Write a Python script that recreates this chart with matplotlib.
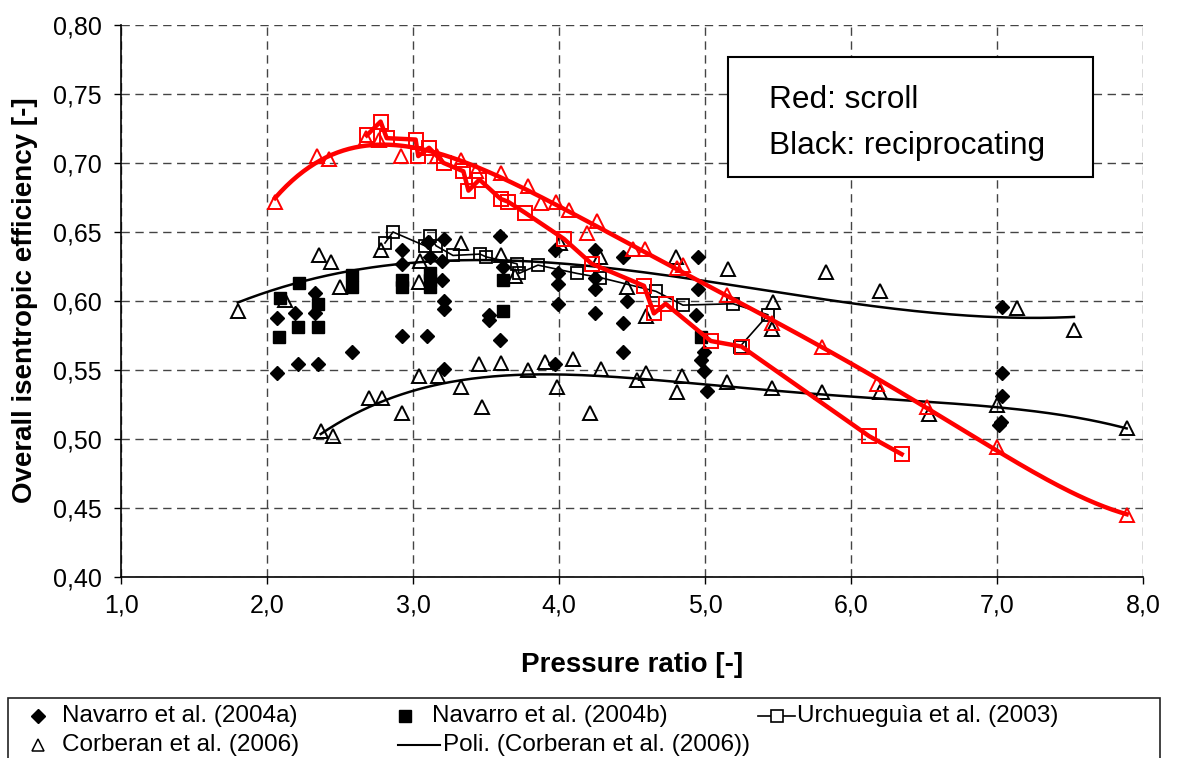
import numpy as np
import matplotlib
matplotlib.use('Agg')
import matplotlib.pyplot as plt
from matplotlib.ticker import FuncFormatter
from matplotlib.lines import Line2D
from matplotlib.patches import Rectangle

plt.rcParams['font.family'] = ['Liberation Sans', 'DejaVu Sans']

# ---------------- data ----------------
# Red: scroll compressors
scroll_tri_x = [2.055, 2.345, 2.427, 2.678, 2.769, 2.916, 3.162, 3.329, 3.432, 3.600,
                3.790, 3.880, 3.979, 4.070, 4.190, 4.260, 4.510, 4.590, 4.806, 4.846,
                5.148, 5.457, 5.800, 6.176, 6.518, 6.998, 7.888]
scroll_tri_y = [0.672, 0.705, 0.703, 0.718, 0.717, 0.705, 0.705, 0.702, 0.694, 0.693,
                0.683, 0.671, 0.672, 0.666, 0.649, 0.658, 0.638, 0.638, 0.624, 0.626,
                0.604, 0.584, 0.567, 0.540, 0.523, 0.494, 0.445]

scroll_sq_x = [2.683, 2.778, 2.820, 3.018, 3.036, 3.110, 3.210, 3.345, 3.380, 3.455,
               3.600, 3.650, 3.767, 4.034, 4.224, 4.582, 4.650, 4.730, 5.040, 5.250,
               6.125, 6.347]
scroll_sq_y = [0.720, 0.730, 0.718, 0.717, 0.705, 0.711, 0.700, 0.694, 0.680, 0.688,
               0.674, 0.672, 0.664, 0.645, 0.627, 0.611, 0.591, 0.598, 0.571, 0.567,
               0.502, 0.489]

# Black: reciprocating compressors
nav_a_x = [2.066, 2.066, 2.192, 2.210, 2.329, 2.329, 2.347, 2.580, 2.923, 2.923,
           2.923, 3.094, 3.105, 3.116, 3.200, 3.200, 3.210, 3.210, 3.214, 3.210,
           3.520, 3.520, 3.596, 3.596, 3.619, 3.973, 3.990, 3.995, 3.995, 3.973,
           4.247, 4.247, 4.247, 4.247, 4.440, 4.463, 4.440, 4.440, 4.954, 4.954,
           4.940, 4.990, 4.970, 4.995, 5.016, 7.032, 7.032, 7.032, 7.016, 7.030]
nav_a_y = [0.588, 0.548, 0.591, 0.554, 0.606, 0.591, 0.554, 0.563, 0.637, 0.627,
           0.575, 0.575, 0.643, 0.632, 0.629, 0.615, 0.600, 0.594, 0.645, 0.551,
           0.590, 0.586, 0.647, 0.572, 0.625, 0.637, 0.620, 0.612, 0.598, 0.554,
           0.637, 0.617, 0.609, 0.591, 0.632, 0.600, 0.584, 0.563, 0.632, 0.609,
           0.590, 0.563, 0.557, 0.549, 0.535, 0.596, 0.548, 0.531, 0.510, 0.512]

nav_b_x = [2.089, 2.084, 2.221, 2.214, 2.351, 2.351, 2.580, 2.580, 2.923, 2.923,
           3.116, 3.116, 3.116, 3.619, 3.619, 4.970]
nav_b_y = [0.602, 0.574, 0.613, 0.581, 0.598, 0.581, 0.619, 0.610, 0.615, 0.610,
           0.620, 0.615, 0.610, 0.615, 0.593, 0.574]

urch_x = [2.808, 2.863, 3.082, 3.116, 3.158, 3.274, 3.459, 3.500, 3.712, 3.726,
          3.856, 4.123, 4.281, 4.664, 4.849, 5.192, 5.432, 5.240]
urch_y = [0.642, 0.650, 0.640, 0.647, 0.640, 0.633, 0.634, 0.632, 0.627, 0.620,
          0.626, 0.620, 0.617, 0.607, 0.597, 0.598, 0.590, 0.567]

corb_up_x = [1.800, 2.123, 2.358, 2.436, 2.500, 2.779, 3.048, 3.041, 3.329, 3.600,
             3.699, 4.007, 4.281, 4.463, 4.596, 4.801, 5.155, 5.467, 5.457, 5.829,
             6.198, 7.139, 7.527]
corb_up_y = [0.593, 0.601, 0.633, 0.628, 0.610, 0.637, 0.629, 0.614, 0.642, 0.633,
             0.618, 0.642, 0.632, 0.610, 0.589, 0.632, 0.623, 0.599, 0.580, 0.621,
             0.607, 0.595, 0.579]
corb_lo_x = [2.368, 2.450, 2.699, 2.790, 2.923, 3.043, 3.169, 3.329, 3.450, 3.470,
             3.600, 3.790, 3.904, 3.984, 4.094, 4.212, 4.285, 4.532, 4.596, 4.806,
             4.844, 5.148, 5.457, 5.800, 6.198, 6.536, 6.998, 7.888]
corb_lo_y = [0.506, 0.502, 0.530, 0.530, 0.519, 0.546, 0.546, 0.538, 0.554, 0.523,
             0.555, 0.550, 0.556, 0.538, 0.558, 0.519, 0.551, 0.543, 0.548, 0.534,
             0.546, 0.541, 0.537, 0.534, 0.534, 0.518, 0.525, 0.508]

x_ticks = [1.0, 2.0, 3.0, 4.0, 5.0, 6.0, 7.0, 8.0]
y_ticks = [0.40, 0.45, 0.50, 0.55, 0.60, 0.65, 0.70, 0.75, 0.80]

labels = ["Navarro et al. (2004a)", "Navarro et al. (2004b)", "Urchueguìa et al. (2003)",
          "Corberan et al. (2006)", "Poli. (Corberan et al. (2006))"]


def trend(x, y, deg):
    """Polynomial trendline over the data range (like a spreadsheet trendline)."""
    c = np.polyfit(x, y, deg)
    xs = np.linspace(min(x), max(x), 300)
    return xs, np.polyval(c, xs)


# ---------------- figure ----------------
W, H = 1178, 758
fig = plt.figure(figsize=(W / 100, H / 100), dpi=100)
ax = fig.add_axes([121 / W, 1 - 577 / H, 1022 / W, 552 / H])

ax.set_xlim(1.0, 8.0)
ax.set_ylim(0.40, 0.80)
ax.set_xticks(x_ticks)
ax.set_yticks(y_ticks)
ax.xaxis.set_major_formatter(FuncFormatter(lambda v, p: f"{v:.1f}".replace('.', ',')))
ax.yaxis.set_major_formatter(FuncFormatter(lambda v, p: f"{v:.2f}".replace('.', ',')))
ax.tick_params(axis='both', labelsize=18, direction='out', length=5, width=1,
               colors='black')
ax.tick_params(axis='y', pad=9)
ax.tick_params(axis='x', pad=7)
ax.grid(True, color='#444444', linestyle=(0, (6, 4)), linewidth=1.0, zorder=0)
ax.set_axisbelow(True)
for s in ['top', 'right']:
    ax.spines[s].set_visible(False)
for s in ['left', 'bottom']:
    ax.spines[s].set_linewidth(1.2)

# black series
xs, ys = trend(corb_up_x, corb_up_y, 3)
ax.plot(xs, ys, color='black', lw=1.8, zorder=3)
xs, ys = trend(corb_lo_x, corb_lo_y, 4)
ax.plot(xs, ys, color='black', lw=1.8, zorder=3)

ax.plot(nav_a_x, nav_a_y, ls='none', marker='D', ms=7.5, color='black', zorder=4)
ax.plot(nav_b_x, nav_b_y, ls='none', marker='s', ms=8.5, color='black', zorder=4)
ax.plot(urch_x, urch_y, color='black', lw=1.2, marker='s', ms=9, mfc='none',
        mec='black', mew=1.3, zorder=4)
ax.plot(corb_up_x, corb_up_y, ls='none', marker='^', ms=10, mfc='none', mec='black',
        mew=1.4, zorder=4)
ax.plot(corb_lo_x, corb_lo_y, ls='none', marker='^', ms=10, mfc='none', mec='black',
        mew=1.4, zorder=4)

# red series
xs, ys = trend(scroll_tri_x, scroll_tri_y, 5)
ax.plot(xs, ys, color='#ff0000', lw=3.2, zorder=5)
ax.plot(scroll_tri_x, scroll_tri_y, ls='none', marker='^', ms=10, mfc='none',
        mec='#ff0000', mew=1.4, zorder=6)
ax.plot(scroll_sq_x, scroll_sq_y, color='#ff0000', lw=3.2, marker='s', ms=10,
        mfc='none', mec='#ff0000', mew=1.4, zorder=6)

# axis labels
ax.set_xlabel("Pressure ratio [-]", fontsize=20, fontweight='bold', labelpad=25)
ax.set_ylabel("Overall isentropic efficiency [-]", fontsize=20, fontweight='bold')
ax.yaxis.set_label_coords((38 - 121) / 1022, 0.502)

# annotation box
ax.add_patch(Rectangle((0.594, 0.725), 0.357, 0.217, transform=ax.transAxes,
                       facecolor='white', edgecolor='black', lw=1.5, zorder=8))
ax.text(0.634, 0.864, "Red: scroll", transform=ax.transAxes, fontsize=22.8,
        va='center', ha='left', zorder=9)
ax.text(0.634, 0.781, "Black: reciprocating", transform=ax.transAxes, fontsize=22.8,
        va='center', ha='left', zorder=9)

# legend (laid out by hand to follow the reference's spacing)
def fx(px):
    return px / W


def fy(py):
    return 1 - py / H


fig.add_artist(Rectangle((fx(8), fy(775)), fx(1160) - fx(8), fy(698) - fy(775),
                         transform=fig.transFigure, facecolor='white',
                         edgecolor='#222222', lw=1.2, zorder=1))
leg_fs = 17.5
r1, r2 = 716, 745
entries = [
    # (label, handle kwargs, handle x-range (px), row y, text x)
    (labels[0], dict(ls='none', marker='D', ms=7.5, color='black'), (38, 38), r1, 62),
    (labels[1], dict(ls='none', marker='s', ms=8.5, color='black'), (405, 405), r1, 432),
    (labels[2], dict(color='black', lw=1.2, marker='s', ms=8.5, mfc='white',
                     mec='black', mew=1.2), (758, 795), r1, 797),
    (labels[3], dict(ls='none', marker='^', ms=8.5, mfc='none', mec='black',
                     mew=1.1), (38, 38), r2, 62),
    (labels[4], dict(color='black', lw=1.5), (398, 440), r2, 443),
]
for lab, kw, (xa, xb), ry, tx in entries:
    if xa == xb:
        fig.add_artist(Line2D([fx(xa)], [fy(ry)], transform=fig.transFigure,
                              zorder=2, **kw))
    else:
        fig.add_artist(Line2D([fx(xa), fx(xb)], [fy(ry), fy(ry)],
                              transform=fig.transFigure, zorder=2,
                              **{k: v for k, v in kw.items() if k not in
                                 ('marker', 'ms', 'mfc', 'mec', 'mew')}))
        if 'marker' in kw:
            fig.add_artist(Line2D([fx((xa + xb) / 2)], [fy(ry)],
                                  transform=fig.transFigure, zorder=3, ls='none',
                                  marker=kw['marker'], ms=kw['ms'], mfc=kw['mfc'],
                                  mec=kw['mec'], mew=kw['mew']))
    fig.text(fx(tx), fy(ry), lab, fontsize=leg_fs, va='center', ha='left', zorder=3)

fig.savefig('out.png', dpi=100)
